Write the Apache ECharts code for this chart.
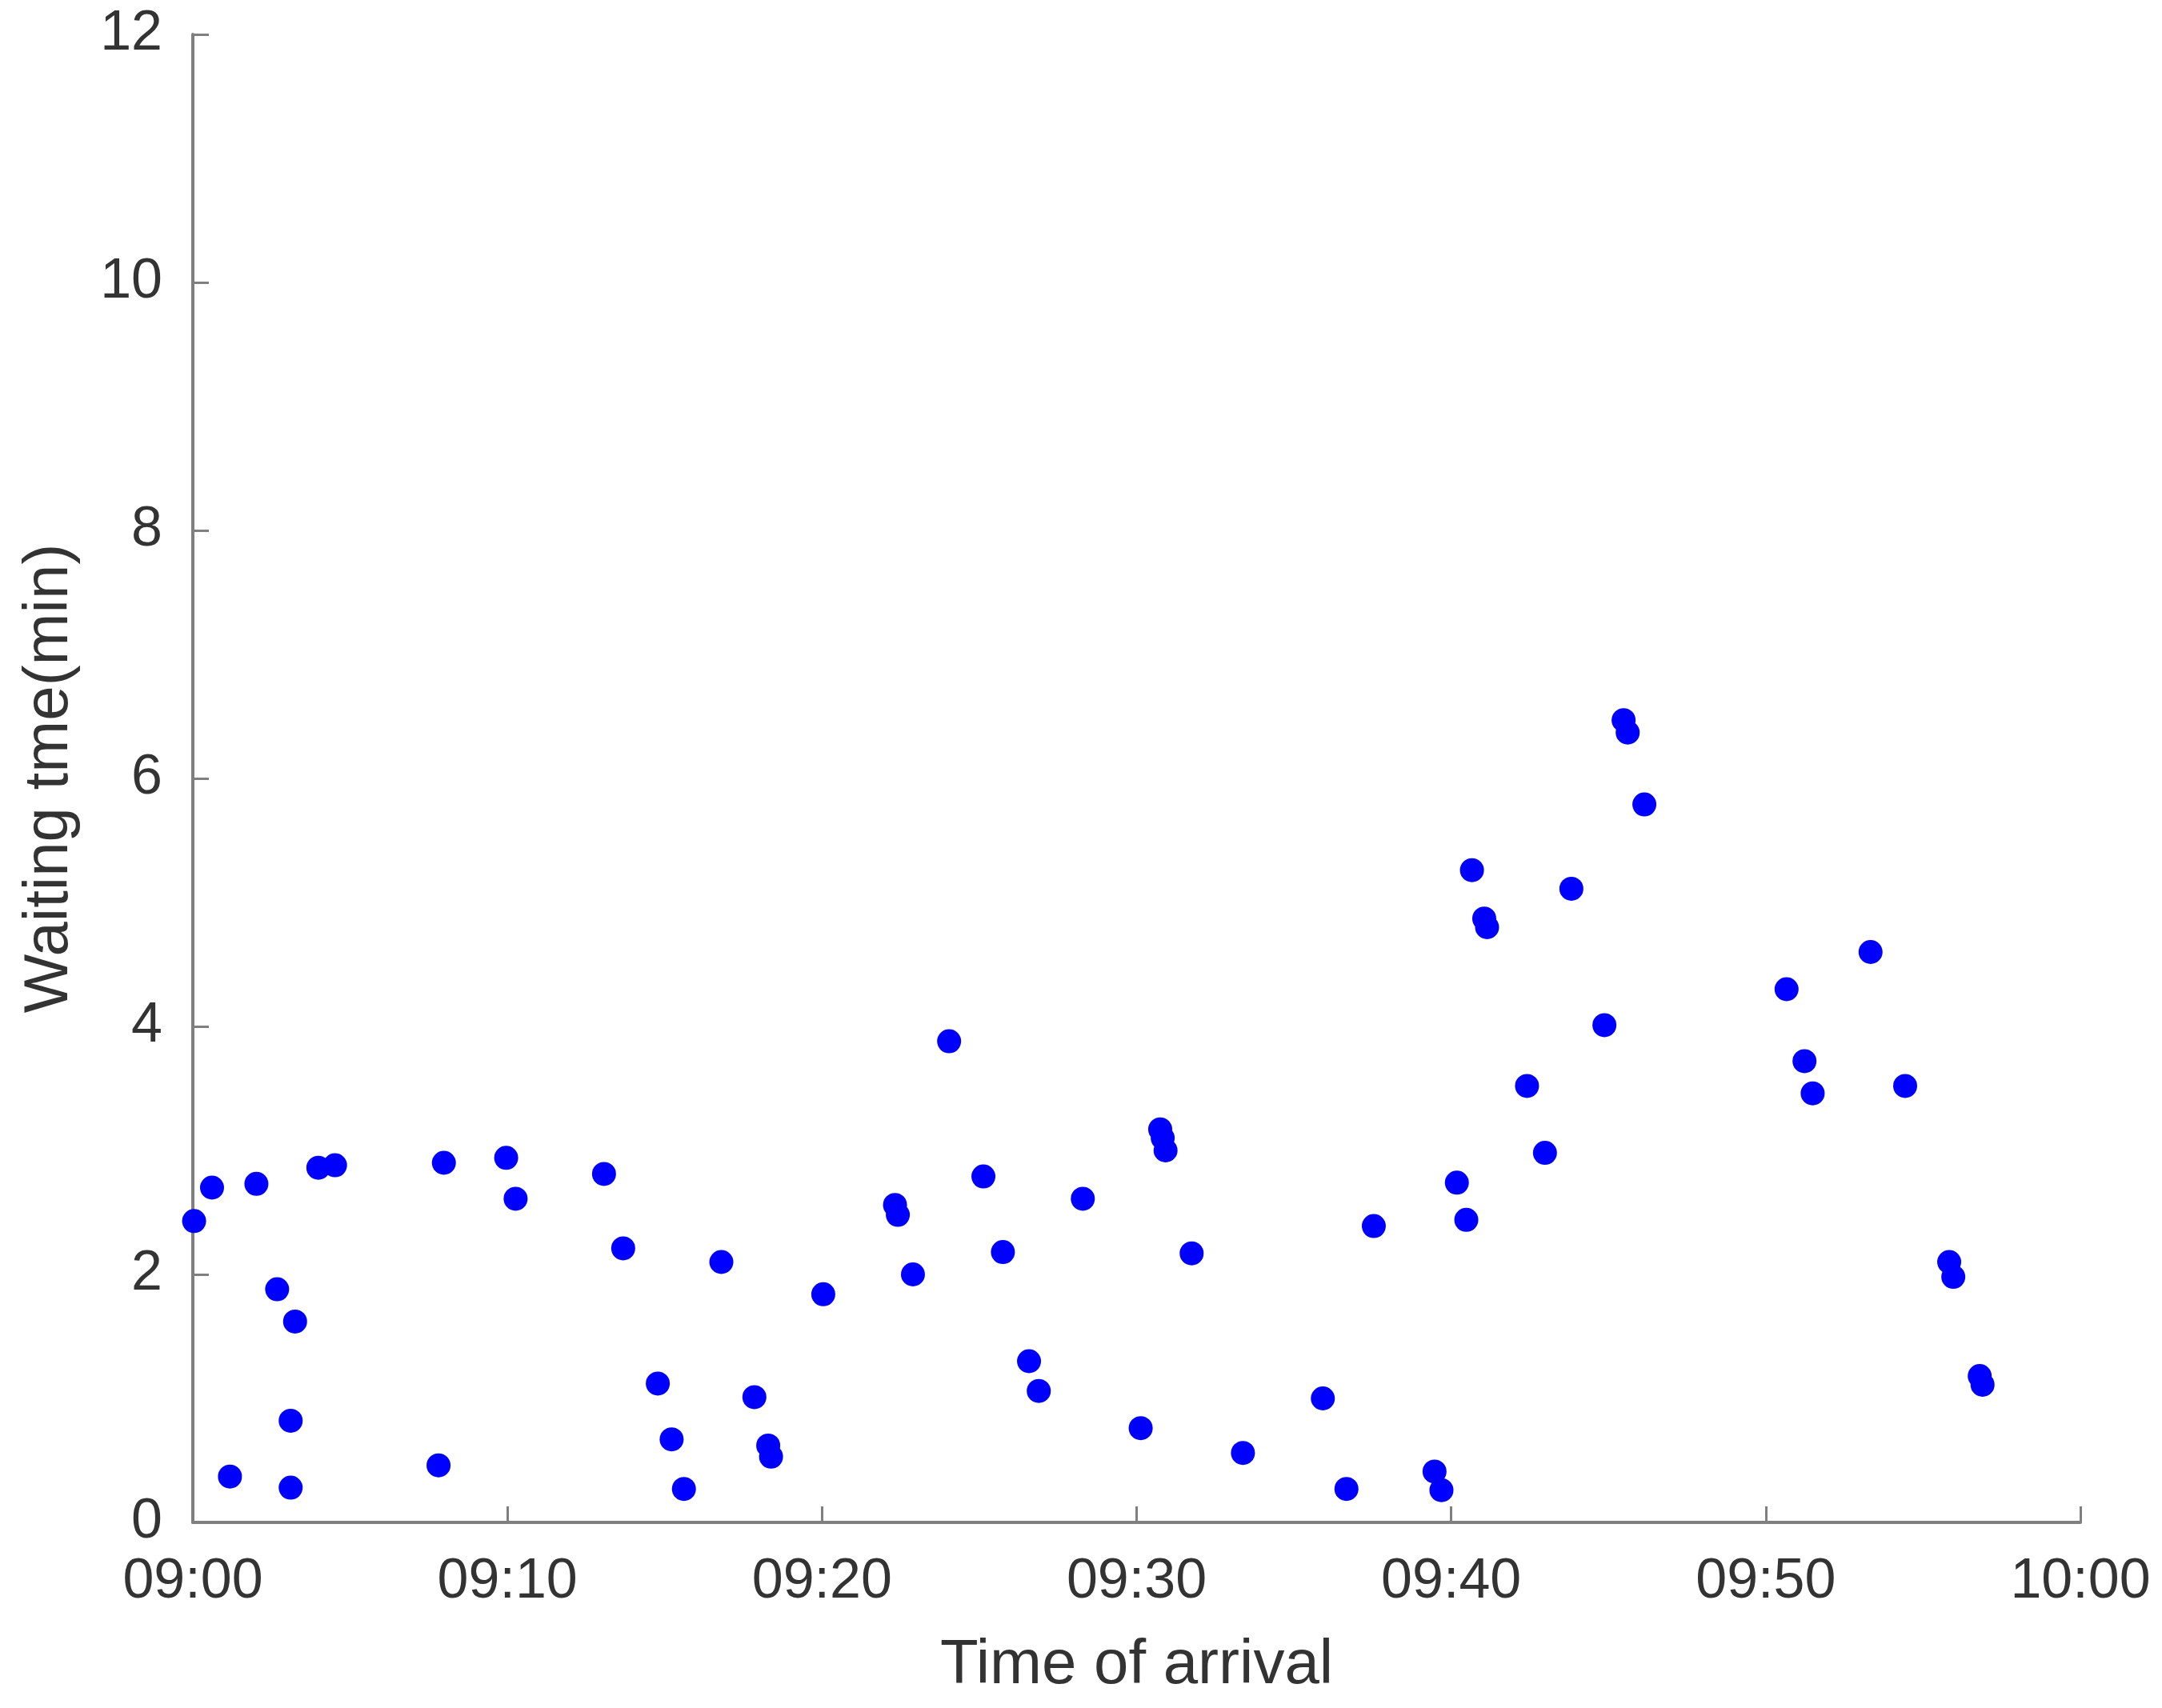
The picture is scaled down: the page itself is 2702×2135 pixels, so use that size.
<!DOCTYPE html>
<html>
<head>
<meta charset="utf-8">
<script src="https://cdn.jsdelivr.net/npm/echarts@6/dist/echarts.min.js"></script>
<style>
  html, body { margin: 0; padding: 0; background: #ffffff; }
  #chart { width: 2702px; height: 2135px; }
</style>
</head>
<body>
<div id="chart"></div>
<script>
// Arrival time, minutes after 09:00
const arrivalMin = [
  0.04, 0.61, 1.18, 2.02, 2.68, 3.11, 3.11, 3.25, 3.99, 4.52,
  7.81, 7.98, 9.96, 10.26, 13.07, 13.68, 14.78, 15.22, 15.61, 16.80,
  17.85, 18.29, 18.38, 20.04, 22.32, 22.41, 22.89, 24.04, 25.13, 25.75,
  26.58, 26.89, 28.29, 30.13, 30.75, 30.83, 30.92, 31.75, 33.38, 35.92,
  36.67, 37.54, 39.47, 39.69, 40.18, 40.48, 40.66, 41.05, 41.14, 42.41,
  42.98, 43.82, 44.87, 45.48, 45.61, 46.14, 50.66, 51.23, 51.49, 53.33,
  54.43, 55.83, 55.96, 56.80, 56.89
];
// Waiting time, minutes
const waitMin = [
  2.43, 2.70, 0.37, 2.73, 1.88, 0.82, 0.28, 1.62, 2.86, 2.88,
  0.46, 2.90, 2.94, 2.61, 2.81, 2.21, 1.12, 0.67, 0.27, 2.10,
  1.01, 0.62, 0.53, 1.84, 2.56, 2.48, 2.00, 3.88, 2.79, 2.18,
  1.30, 1.06, 2.61, 0.76, 3.17, 3.10, 3.00, 2.17, 0.56, 1.00,
  0.27, 2.39, 0.41, 0.26, 2.74, 2.44, 5.26, 4.87, 4.80, 3.52,
  2.98, 5.11, 4.01, 6.47, 6.37, 5.79, 4.30, 3.72, 3.46, 4.60,
  3.52, 2.10, 1.98, 1.18, 1.11
];
const xTickLabels = ['09:00', '09:10', '09:20', '09:30', '09:40', '09:50', '10:00'];
const xTitle = 'Time of arrival';
const yTitle = 'Waiting tme(min)';

const points = arrivalMin.map((t, i) => [t, waitMin[i]]);

const chart = echarts.init(document.getElementById('chart'), null, { renderer: 'canvas' });
const axisColor = '#7f7f7f';
const textColor = '#333333';
const fontFamily = '"Liberation Sans", Arial, Helvetica, sans-serif';

chart.setOption({
  backgroundColor: '#ffffff',
  animation: false,
  grid: { left: 241, right: 102, top: 43, bottom: 232, containLabel: false },
  xAxis: {
    type: 'value',
    min: 0, max: 60, interval: 10,
    name: xTitle,
    nameLocation: 'middle',
    nameGap: 140,
    nameTextStyle: { fontSize: 78, color: textColor, fontFamily: fontFamily },
    axisLine: { show: true, lineStyle: { color: axisColor, width: 4 } },
    axisTick: { show: true, inside: true, length: 20, lineStyle: { color: axisColor, width: 3 } },
    splitLine: { show: false },
    axisLabel: {
      fontSize: 70, color: textColor, fontFamily: fontFamily, margin: 40,
      formatter: function (v) { return xTickLabels[Math.round(v / 10)] || ''; }
    }
  },
  yAxis: {
    type: 'value',
    min: 0, max: 12, interval: 2,
    name: yTitle,
    nameLocation: 'middle',
    nameGap: 140,
    nameRotate: 90,
    nameTextStyle: { fontSize: 78, color: textColor, fontFamily: fontFamily },
    axisLine: { show: true, lineStyle: { color: axisColor, width: 4 } },
    axisTick: { show: true, inside: true, length: 20, lineStyle: { color: axisColor, width: 3 } },
    splitLine: { show: false },
    axisLabel: { fontSize: 70, color: textColor, fontFamily: fontFamily, margin: 38 }
  },
  series: [{
    type: 'scatter',
    data: points,
    symbol: 'circle',
    symbolSize: 30,
    itemStyle: { color: '#0000ff', opacity: 1 },
    clip: false
  }]
});
</script>
</body>
</html>
